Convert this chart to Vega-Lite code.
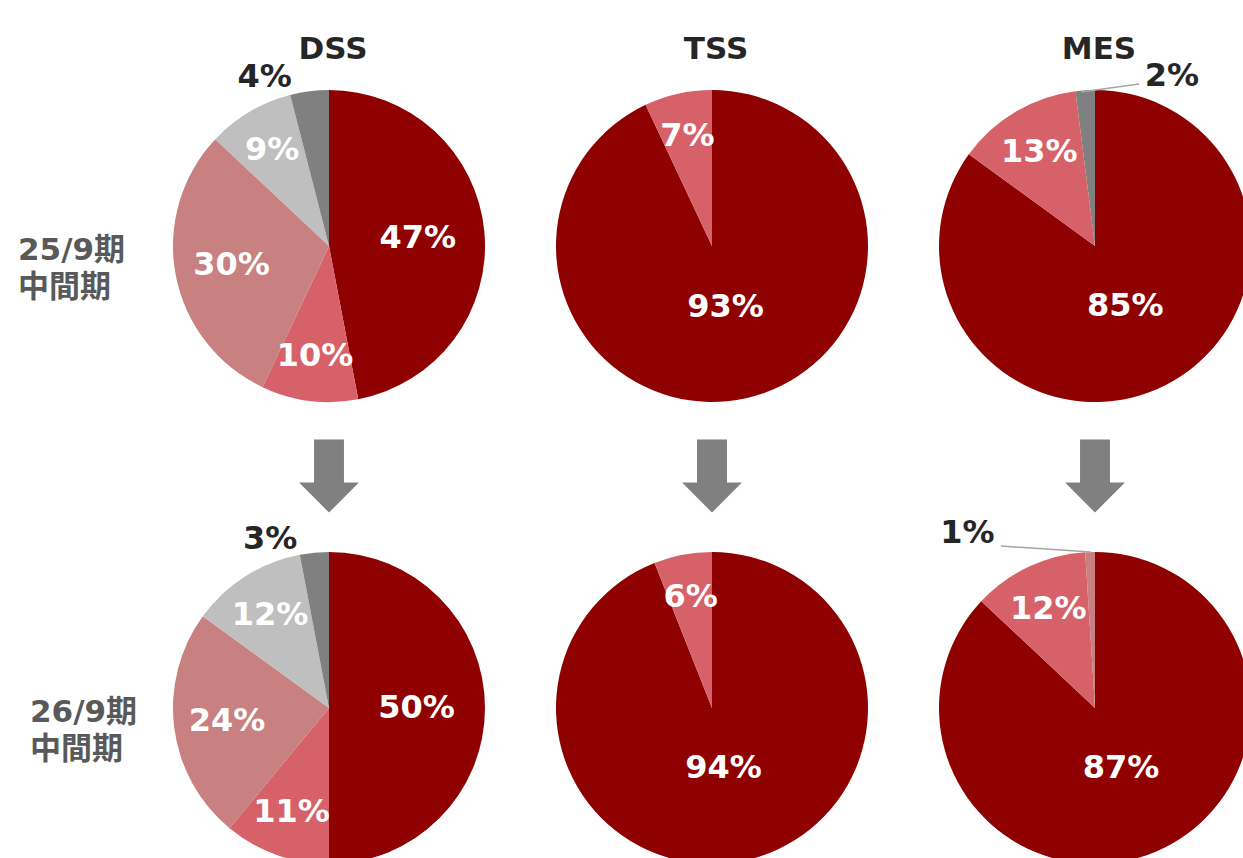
{
  "$schema": "https://vega.github.io/schema/vega-lite/v6.json",
  "width": 1243,
  "height": 858,
  "autosize": {"type": "none"},
  "padding": 0,
  "background": "#ffffff",
  "config": {"view": {"stroke": null}},
  "datasets": {
    "slices": [
      {"segment": "DSS", "period": "25/9期", "cat": "s1", "value": 47, "label": "47%", "idx": 0},
      {"segment": "DSS", "period": "25/9期", "cat": "s2", "value": 10, "label": "10%", "idx": 1},
      {"segment": "DSS", "period": "25/9期", "cat": "s3", "value": 30, "label": "30%", "idx": 2},
      {"segment": "DSS", "period": "25/9期", "cat": "s4", "value": 9, "label": "9%", "idx": 3},
      {"segment": "DSS", "period": "25/9期", "cat": "s5", "value": 4, "label": "4%", "idx": 4},
      {"segment": "TSS", "period": "25/9期", "cat": "s1", "value": 93, "label": "93%", "idx": 5},
      {"segment": "TSS", "period": "25/9期", "cat": "s2", "value": 7, "label": "7%", "idx": 6},
      {"segment": "MES", "period": "25/9期", "cat": "s1", "value": 85, "label": "85%", "idx": 7},
      {"segment": "MES", "period": "25/9期", "cat": "s2", "value": 13, "label": "13%", "idx": 8},
      {"segment": "MES", "period": "25/9期", "cat": "s5", "value": 2, "label": "2%", "idx": 9},
      {"segment": "DSS", "period": "26/9期", "cat": "s1", "value": 50, "label": "50%", "idx": 10},
      {"segment": "DSS", "period": "26/9期", "cat": "s2", "value": 11, "label": "11%", "idx": 11},
      {"segment": "DSS", "period": "26/9期", "cat": "s3", "value": 24, "label": "24%", "idx": 12},
      {"segment": "DSS", "period": "26/9期", "cat": "s4", "value": 12, "label": "12%", "idx": 13},
      {"segment": "DSS", "period": "26/9期", "cat": "s5", "value": 3, "label": "3%", "idx": 14},
      {"segment": "TSS", "period": "26/9期", "cat": "s1", "value": 94, "label": "94%", "idx": 15},
      {"segment": "TSS", "period": "26/9期", "cat": "s2", "value": 6, "label": "6%", "idx": 16},
      {"segment": "MES", "period": "26/9期", "cat": "s1", "value": 87, "label": "87%", "idx": 17},
      {"segment": "MES", "period": "26/9期", "cat": "s2", "value": 12, "label": "12%", "idx": 18},
      {"segment": "MES", "period": "26/9期", "cat": "s3", "value": 1, "label": "1%", "idx": 19}
    ]
  },
  "layer": [
    {
      "data": {"name": "slices"},
      "encoding": {
        "x": {"field": "segment", "type": "nominal", "axis": null, "scale": {"type": "point", "domain": ["DSS", "TSS", "MES"], "range": [329, 1095], "padding": 0}},
        "y": {"field": "period", "type": "nominal", "axis": null, "scale": {"type": "point", "domain": ["25/9期", "26/9期"], "range": [246, 708], "padding": 0}},
        "theta": {"field": "value", "type": "quantitative", "stack": true, "scale": {"type": "linear", "domain": [0, 100], "zero": true, "nice": false}},
        "order": {"field": "idx", "type": "quantitative"}
      },
      "layer": [
        {
          "mark": {"type": "arc", "radius": 156},
          "encoding": {
            "color": {"field": "cat", "type": "nominal", "legend": null, "scale": {"domain": ["s1", "s2", "s3", "s4", "s5"], "range": ["#8F0000", "#D66168", "#C88080", "#BFBFBF", "#808080"]}}
          }
        },
        {
          "mark": {"type": "text", "font": "DejaVu Sans", "fontWeight": "bold", "fontSize": 32, "color": "#FFFFFF", "align": "center", "baseline": "middle"},
          "encoding": {
            "radius": {"field": "value", "type": "quantitative", "scale": {"type": "linear", "domain": [0, 100], "range": [117, 58], "zero": false}},
            "text": {"condition": {"test": "datum.value >= 5", "field": "label", "type": "nominal"}, "value": ""}
          }
        },
        {
          "mark": {"type": "text", "radius": 178, "dx": -42, "dy": 8, "font": "DejaVu Sans", "fontWeight": "bold", "fontSize": 32, "color": "#262626", "align": "center", "baseline": "middle"},
          "encoding": {
            "text": {"condition": {"test": "datum.segment == 'DSS' && datum.value < 5", "field": "label", "type": "nominal"}, "value": ""}
          }
        },
        {
          "mark": {"type": "text", "radius": 178, "dx": 88, "dy": 8, "font": "DejaVu Sans", "fontWeight": "bold", "fontSize": 32, "color": "#262626", "align": "center", "baseline": "middle"},
          "encoding": {
            "text": {"condition": {"test": "datum.segment == 'MES' && datum.period == '25/9期' && datum.value < 5", "field": "label", "type": "nominal"}, "value": ""}
          }
        },
        {
          "mark": {"type": "text", "radius": 178, "dx": -122, "dy": 3, "font": "DejaVu Sans", "fontWeight": "bold", "fontSize": 32, "color": "#262626", "align": "center", "baseline": "middle"},
          "encoding": {
            "text": {"condition": {"test": "datum.segment == 'MES' && datum.period == '26/9期' && datum.value < 5", "field": "label", "type": "nominal"}, "value": ""}
          }
        }
      ]
    },
    {
      "data": {"values": [{"segment": "MES", "period": "25/9期"}]},
      "mark": {"type": "rule", "color": "#A6A6A6", "strokeWidth": 1.5, "xOffset": -14, "yOffset": -154, "x2Offset": 44, "y2Offset": -162},
      "encoding": {
        "x": {"field": "segment", "type": "nominal", "axis": null, "scale": {"type": "point", "domain": ["DSS", "TSS", "MES"], "range": [329, 1095], "padding": 0}},
        "y": {"field": "period", "type": "nominal", "axis": null, "scale": {"type": "point", "domain": ["25/9期", "26/9期"], "range": [246, 708], "padding": 0}},
        "x2": {"field": "segment"},
        "y2": {"field": "period"}
      }
    },
    {
      "data": {"values": [{"segment": "MES", "period": "26/9期"}]},
      "mark": {"type": "rule", "color": "#A6A6A6", "strokeWidth": 1.5, "xOffset": -94, "yOffset": -162, "x2Offset": -4, "y2Offset": -156},
      "encoding": {
        "x": {"field": "segment", "type": "nominal", "axis": null, "scale": {"type": "point", "domain": ["DSS", "TSS", "MES"], "range": [329, 1095], "padding": 0}},
        "y": {"field": "period", "type": "nominal", "axis": null, "scale": {"type": "point", "domain": ["25/9期", "26/9期"], "range": [246, 708], "padding": 0}},
        "x2": {"field": "segment"},
        "y2": {"field": "period"}
      }
    },
    {
      "data": {"values": [{"segment": "DSS"}, {"segment": "TSS"}, {"segment": "MES"}]},
      "mark": {"type": "point", "shape": "M-0.41,-1L0.41,-1L0.41,0.18L0.82,0.18L0,1L-0.82,0.18L-0.41,0.18Z", "size": 5329, "filled": true, "color": "#808080", "opacity": 1, "strokeWidth": 0, "yOffset": 230},
      "encoding": {
        "x": {"field": "segment", "type": "nominal", "axis": null, "scale": {"type": "point", "domain": ["DSS", "TSS", "MES"], "range": [329, 1095], "padding": 0}},
        "y": {"datum": "25/9期", "type": "nominal", "axis": null, "scale": {"type": "point", "domain": ["25/9期", "26/9期"], "range": [246, 708], "padding": 0}}
      }
    },
    {
      "data": {"values": [{"segment": "DSS"}, {"segment": "TSS"}, {"segment": "MES"}]},
      "mark": {"type": "text", "dx": 4, "dy": -196, "font": "DejaVu Sans", "fontWeight": "bold", "fontSize": 31, "color": "#262626", "align": "center", "baseline": "middle"},
      "encoding": {
        "x": {"field": "segment", "type": "nominal", "axis": null, "scale": {"type": "point", "domain": ["DSS", "TSS", "MES"], "range": [329, 1095], "padding": 0}},
        "y": {"datum": "25/9期", "type": "nominal", "axis": null, "scale": {"type": "point", "domain": ["25/9期", "26/9期"], "range": [246, 708], "padding": 0}},
        "text": {"field": "segment", "type": "nominal"}
      }
    },
    {
      "data": {"values": [{"period": "25/9期", "lines": ["25/9期", "中間期"]}]},
      "mark": {"type": "text", "align": "left", "baseline": "top", "dx": -311, "dy": -10, "lineHeight": 37, "font": "DejaVu Sans, Noto Sans CJK JP", "fontWeight": "bold", "fontSize": 31, "color": "#595959"},
      "encoding": {
        "x": {"datum": "DSS", "type": "nominal", "axis": null, "scale": {"type": "point", "domain": ["DSS", "TSS", "MES"], "range": [329, 1095], "padding": 0}},
        "y": {"field": "period", "type": "nominal", "axis": null, "scale": {"type": "point", "domain": ["25/9期", "26/9期"], "range": [246, 708], "padding": 0}},
        "text": {"field": "lines", "type": "nominal"}
      }
    },
    {
      "data": {"values": [{"period": "26/9期", "lines": ["26/9期", "中間期"]}]},
      "mark": {"type": "text", "align": "left", "baseline": "top", "dx": -299, "dy": -10, "lineHeight": 37, "font": "DejaVu Sans, Noto Sans CJK JP", "fontWeight": "bold", "fontSize": 31, "color": "#595959"},
      "encoding": {
        "x": {"datum": "DSS", "type": "nominal", "axis": null, "scale": {"type": "point", "domain": ["DSS", "TSS", "MES"], "range": [329, 1095], "padding": 0}},
        "y": {"field": "period", "type": "nominal", "axis": null, "scale": {"type": "point", "domain": ["25/9期", "26/9期"], "range": [246, 708], "padding": 0}},
        "text": {"field": "lines", "type": "nominal"}
      }
    }
  ]
}
